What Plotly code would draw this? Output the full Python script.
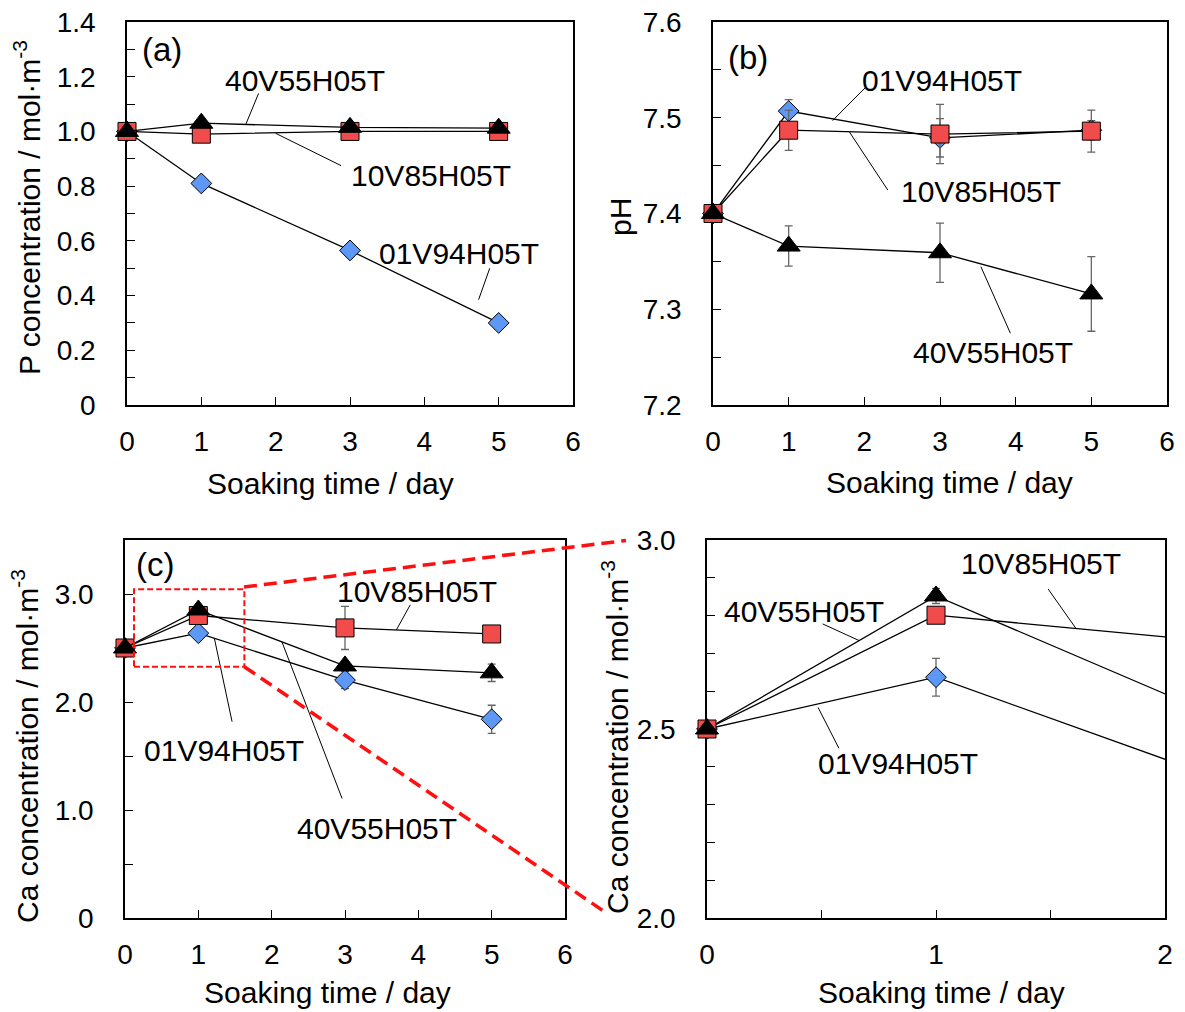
import plotly.graph_objects as go

# ---------------------------------------------------------------- data
days = [0, 1, 3, 5]
series_names = ["01V94H05T", "10V85H05T", "40V55H05T"]

# (a) P concentration / mol m^-3
p_01v94 = [1.00, 0.81, 0.565, 0.30]
p_10v85 = [1.00, 0.99, 1.00, 1.00]
p_40v55 = [1.00, 1.03, 1.015, 1.012]

# (b) pH
ph_01v94 = [7.400, 7.507, 7.479, 7.487]
ph_10v85 = [7.400, 7.487, 7.483, 7.486]
ph_40v55 = [7.400, 7.366, 7.359, 7.316]
ph_01v94_err = [0, 0.012, 0.020, 0.010]
ph_10v85_err = [0, 0.021, 0.031, 0.022]
ph_40v55_err = [0, 0.021, 0.031, 0.039]

# (c)/(d) Ca concentration / mol m^-3
ca_01v94 = [2.50, 2.637, 2.203, 1.84]
ca_10v85 = [2.50, 2.801, 2.686, 2.63]
ca_40v55 = [2.50, 2.852, 2.334, 2.27]
ca_01v94_err = [0, 0.05, 0.08, 0.13]
ca_10v85_err = [0, 0.02, 0.20, 0.02]
ca_40v55_err = [0, 0.02, 0.03, 0.08]

x_ticks = [0, 1, 2, 3, 4, 5, 6]
a_yticks = [0, 0.2, 0.4, 0.6, 0.8, 1.0, 1.2, 1.4]
a_ytext = ["0", "0.2", "0.4", "0.6", "0.8", "1.0", "1.2", "1.4"]
b_yticks = [7.2, 7.3, 7.4, 7.5, 7.6]
b_ytext = ["7.2", "7.3", "7.4", "7.5", "7.6"]
c_yticks = [0, 1, 2, 3]
c_ytext = ["0", "1.0", "2.0", "3.0"]
d_xticks = [0, 1, 2]
d_yticks = [2.0, 2.5, 3.0]
d_ytext = ["2.0", "2.5", "3.0"]

# ---------------------------------------------------------------- style
W, H = 1185, 1012
FONT = "Liberation Sans, Arial, Helvetica, sans-serif"
FS_TICK = 28
FS_TEXT = 30
FS_PANEL = 33
BLUE = "#5E98F6"
RED = "#F24B4B"
BLACK = "#000000"
ERR = "#666666"

styles = {
    "01V94H05T": dict(symbol="diamond", color=BLUE, size=16),
    "10V85H05T": dict(symbol="square", color=RED, size=18),
    "40V55H05T": dict(symbol="triangle-up", color=BLACK, size=20),
}


def px(x):
    return x / W


def py(y):
    return 1 - y / H


fig = go.Figure()


def add_series(name, xs, ys, err, xa, ya, mode="lines+markers"):
    st = styles[name]
    fig.add_trace(go.Scatter(
        x=xs, y=ys, mode=mode, name=name, showlegend=False,
        xaxis=xa, yaxis=ya, cliponaxis=False,
        line=dict(color="black", width=1.3),
        marker=dict(symbol=st["symbol"], size=st["size"], color=st["color"],
                    line=dict(color="black", width=1)),
        error_y=(dict(type="data", array=err, visible=True, color=ERR,
                      thickness=1.3, width=4) if err is not None else None),
    ))


# (a)
add_series("01V94H05T", days, p_01v94, None, "x", "y")
add_series("10V85H05T", days, p_10v85, None, "x", "y")
add_series("40V55H05T", days, p_40v55, None, "x", "y")

# (b)
add_series("01V94H05T", days, ph_01v94, ph_01v94_err, "x2", "y2")
add_series("10V85H05T", days, ph_10v85, ph_10v85_err, "x2", "y2")
add_series("40V55H05T", days, ph_40v55, ph_40v55_err, "x2", "y2")

# (c)
add_series("01V94H05T", days, ca_01v94, ca_01v94_err, "x3", "y3")
add_series("10V85H05T", days, ca_10v85, ca_10v85_err, "x3", "y3")
add_series("40V55H05T", days, ca_40v55, ca_40v55_err, "x3", "y3")

# (d) enlarged view of the first two days: full lines (clipped by the
# axes) plus markers only for the points inside the shown range
D_MAX = 2
ca_sets = [("01V94H05T", ca_01v94, ca_01v94_err),
           ("10V85H05T", ca_10v85, ca_10v85_err),
           ("40V55H05T", ca_40v55, ca_40v55_err)]
for name, ys, err in ca_sets:
    fig.add_trace(go.Scatter(x=days, y=ys, mode="lines", showlegend=False,
                             xaxis="x4", yaxis="y4",
                             line=dict(color="black", width=1.3)))
for name, ys, err in ca_sets:
    keep = [i for i, d in enumerate(days) if d <= D_MAX]
    add_series(name, [days[i] for i in keep], [ys[i] for i in keep],
               [err[i] for i in keep], "x4", "y4", mode="markers")


# ---------------------------------------------------------------- axes
def axis(domain, rng, tickvals, ticktext=None, minor=None, anchor=None, standoff=10):
    d = dict(domain=domain, range=rng, anchor=anchor, automargin=False,
             showline=True, linecolor="black", linewidth=1.6, mirror=True,
             ticks="inside", ticklen=8, tickwidth=1.2, tickcolor="black",
             showgrid=False, zeroline=False, layer="below traces",
             tickmode="array", tickvals=tickvals,
             ticktext=ticktext if ticktext is not None else [str(v) for v in tickvals],
             tickfont=dict(family=FONT, size=FS_TICK, color="black"),
             ticklabelstandoff=standoff)
    if minor is not None:
        d["minor"] = dict(ticks="inside", ticklen=8, tickwidth=1.2,
                          tickcolor="black", dtick=minor, tick0=0, showgrid=False)
    return d


ya_dom = [py(405), py(22)]
yc_dom = [py(918), py(540)]
XS, YS = 11, 24

fig.update_layout(
    template="none",
    width=W, height=H, margin=dict(l=0, r=0, t=0, b=0, autoexpand=False),
    paper_bgcolor="white", plot_bgcolor="white",
    font=dict(family=FONT, size=FS_TEXT, color="black"),
    xaxis=axis([px(127), px(573)], [0, 6], x_ticks, anchor="y", standoff=XS),
    yaxis=axis(ya_dom, [0, 1.4], a_yticks, a_ytext, minor=0.1, anchor="x", standoff=YS),
    xaxis2=axis([px(713), px(1167)], [0, 6], x_ticks, anchor="y2", standoff=XS),
    yaxis2=axis(ya_dom, [7.2, 7.6], b_yticks, b_ytext, minor=0.05, anchor="x2", standoff=YS),
    xaxis3=axis([px(125), px(565)], [0, 6], x_ticks, anchor="y3", standoff=XS),
    yaxis3=axis(yc_dom, [0, 3.5], c_yticks, c_ytext, minor=0.5, anchor="x3", standoff=YS),
    xaxis4=axis([px(707), px(1165)], [0, 2], d_xticks, minor=0.5, anchor="y4", standoff=XS),
    yaxis4=axis(yc_dom, [2.0, 3.0], d_yticks, d_ytext, minor=0.1, anchor="x4", standoff=YS),
)

# ---------------------------------------------------------------- texts
annotations = []


def text(s, x, y, xref="paper", yref="paper", angle=0, size=FS_TEXT):
    annotations.append(dict(text=s, x=x, y=y, xref=xref, yref=yref,
                            showarrow=False, xanchor="center", yanchor="middle",
                            textangle=angle,
                            font=dict(family=FONT, size=size, color="black")))


XT = "Soaking time / day"
text(XT, px(330), py(483))
text(XT, px(949), py(482))
text(XT, px(327), py(992))
text(XT, px(941), py(992))
text("P concentration / mol·m<sup>-3</sup>", px(27), py(208), angle=-90)
text("pH", px(621), py(217), angle=-90)
text("Ca concentration / mol·m<sup>-3</sup>", px(25), py(746), angle=-90)
text("Ca concentration / mol·m<sup>-3</sup>", px(615), py(737), angle=-90)

# panel letters
text("(a)", 0.47, 1.30, "x", "y", size=FS_PANEL)
text("(b)", 0.46, 7.563, "x2", "y2", size=FS_PANEL)
text("(c)", 0.405, 3.27, "x3", "y3", size=FS_PANEL)

# series labels with leader lines: (label, text x, text y, line start, line end)
labels = {
    ("x", "y"): [
        ("40V55H05T", 2.39, 1.185, (1.77, 1.139), (1.60, 1.027)),
        ("10V85H05T", 4.09, 0.84, (2.88, 0.875), (2.00, 0.993)),
        ("01V94H05T", 4.47, 0.555, (4.88, 0.50), (4.73, 0.385)),
    ],
    ("x2", "y2"): [
        ("01V94H05T", 3.03, 7.539, (2.02, 7.532), (1.58, 7.497)),
        ("10V85H05T", 3.54, 7.423, (2.31, 7.4245), (1.80, 7.4855)),
        ("40V55H05T", 3.70, 7.2547, (3.93, 7.275), (3.54, 7.3445)),
    ],
    ("x3", "y3"): [
        ("10V85H05T", 3.98, 3.02, (3.89, 2.90), (3.70, 2.667)),
        ("01V94H05T", 1.35, 1.555, (1.46, 1.818), (1.22, 2.585)),
        ("40V55H05T", 3.43, 0.83, (2.96, 1.107), (2.14, 2.557)),
    ],
    ("x4", "y4"): [
        ("10V85H05T", 1.46, 2.937, (1.49, 2.87), (1.61, 2.767)),
        ("40V55H05T", 0.424, 2.81, (0.505, 2.778), (0.664, 2.734)),
        ("01V94H05T", 0.834, 2.409, (0.576, 2.449), (0.485, 2.557)),
    ],
}

shapes = []
for (xr, yr), items in labels.items():
    for s, tx, ty, (x0, y0), (x1, y1) in items:
        text(s, tx, ty, xr, yr)
        shapes.append(dict(type="line", xref=xr, yref=yr, x0=x0, y0=y0, x1=x1, y1=y1,
                           line=dict(color="black", width=1)))

# zoom frame in (c) and the connector lines towards (d)
shapes.append(dict(type="rect", xref="x3", yref="y3", x0=0.123, x1=1.628, y0=2.326, y1=3.043,
                   line=dict(color="#FF1010", width=2, dash="6px,3px")))
shapes.append(dict(type="line", xref="paper", yref="paper",
                   x0=px(244), y0=py(587), x1=px(626), y1=py(540.5),
                   line=dict(color="#FF1010", width=3.5, dash="13px,7px")))
shapes.append(dict(type="line", xref="paper", yref="paper",
                   x0=px(244.3), y0=py(666.7), x1=px(603), y1=py(910.7),
                   line=dict(color="#FF1010", width=3.5, dash="13px,7px")))

fig.update_layout(annotations=annotations, shapes=shapes)

fig.write_html("out.html")
